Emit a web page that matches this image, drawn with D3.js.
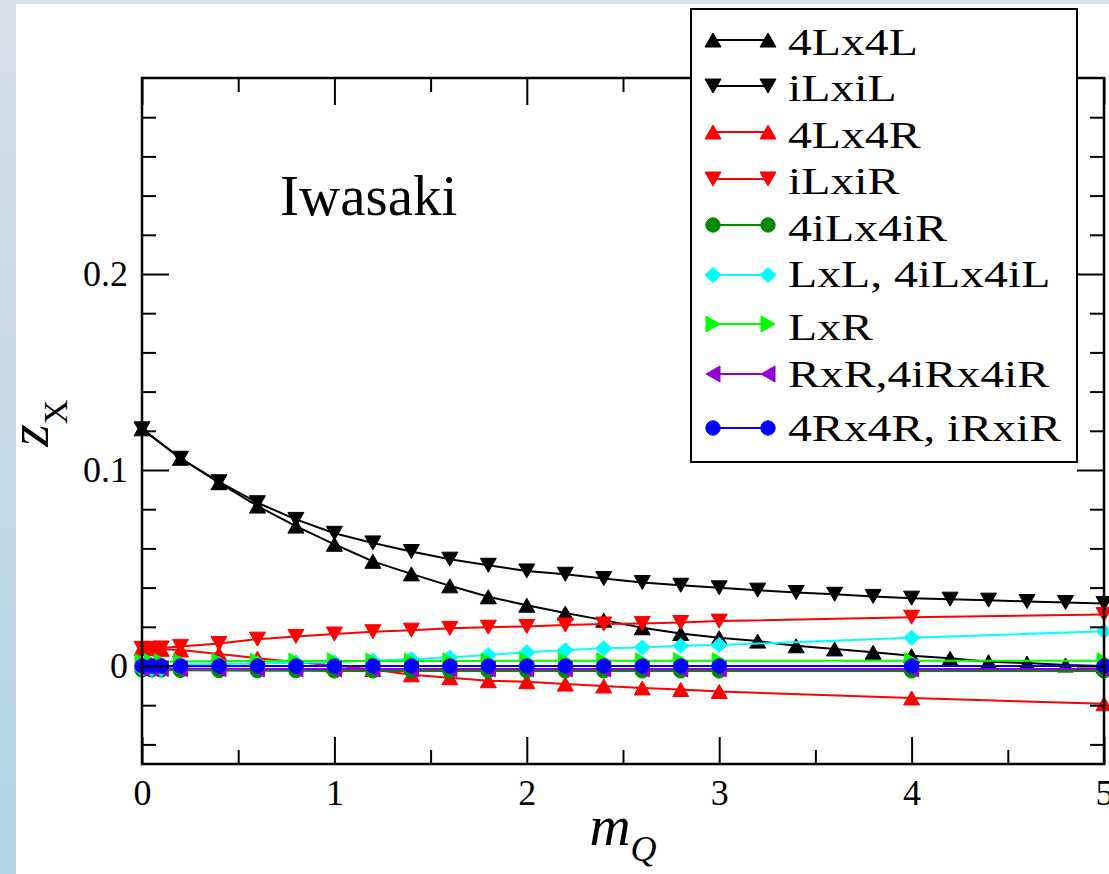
<!DOCTYPE html>
<html lang="en">
<head>
<meta charset="utf-8">
<title>Iwasaki z_X vs m_Q</title>
<script src="https://d3js.org/d3.v7.min.js"></script>
<style>
  body { margin: 0; background: #fff; overflow: hidden; }
  svg text { font-family: "Liberation Serif", "Times New Roman", serif; fill: #000; }
</style>
</head>
<body>
<svg id="chart" width="1109" height="874"></svg>
<script>
// quark mass grid: black sets have the full 0.2 grid, the rest stop at 3 then 4, 5
var xBlack = [0, 0.2, 0.4, 0.6, 0.8, 1.0, 1.2, 1.4, 1.6, 1.8, 2.0, 2.2, 2.4, 2.6, 2.8, 3.0,
              3.2, 3.4, 3.6, 3.8, 4.0, 4.2, 4.4, 4.6, 4.8, 5.0];
var xOther = [0, 0.05, 0.1, 0.2, 0.4, 0.6, 0.8, 1.0, 1.2, 1.4, 1.6, 1.8, 2.0, 2.2, 2.4, 2.6, 2.8, 3.0, 4.0, 5.0];

var z4Lx4L = [0.121, 0.106, 0.0935, 0.0816, 0.0714, 0.0621, 0.0534, 0.047, 0.0409, 0.0353, 0.031, 0.027, 0.0234,
              0.0195, 0.0166, 0.0144, 0.0127, 0.0103, 0.0087, 0.007, 0.0052, 0.0039, 0.0022, 0.0015, 0.0005, 0.0];
var ziLxiL = [0.121, 0.106, 0.094, 0.0833, 0.0748, 0.0677, 0.0628, 0.0584, 0.0545, 0.0514, 0.0485, 0.0468, 0.0446,
              0.0426, 0.0412, 0.0399, 0.0387, 0.0375, 0.0366, 0.0355, 0.0346, 0.0341, 0.0336, 0.0329, 0.0324, 0.0319];
var z4Lx4R = [0.009, 0.0088, 0.0085, 0.0082, 0.0061, 0.004, 0.002, 0.0002, -0.0018, -0.0045, -0.006, -0.0075,
              -0.008, -0.0092, -0.0102, -0.0112, -0.012, -0.013, -0.0163, -0.0193];
var ziLxiR = [0.009, 0.009, 0.0092, 0.010, 0.0115, 0.0137, 0.0151, 0.0163, 0.0175, 0.0183, 0.0192, 0.0198,
              0.0202, 0.0209, 0.0214, 0.0217, 0.0222, 0.0229, 0.0249, 0.0263];
var z4iLx4iR = [-0.002, -0.002, -0.002, -0.0022, -0.0023, -0.0024, -0.0024, -0.0025, -0.0025, -0.0025, -0.0025, -0.0025,
                -0.0025, -0.0025, -0.0025, -0.0025, -0.0025, -0.0025, -0.0025, -0.0025];
var zLxL = [-0.0015, -0.0015, -0.0015, 0.0008, 0.001, 0.0013, 0.0016, 0.0019, 0.0027, 0.0035, 0.0044, 0.0056,
            0.007, 0.0081, 0.009, 0.0095, 0.0103, 0.0107, 0.0144, 0.0177];
var zLxR = [0.0022, 0.0022, 0.0022, 0.0023, 0.0024, 0.0025, 0.0025, 0.0026, 0.0026, 0.0026, 0.0026, 0.0026,
            0.0027, 0.0027, 0.0027, 0.0027, 0.0027, 0.0027, 0.0027, 0.0027];
var zRxR = [-0.0013, -0.0013, -0.0013, -0.0014, -0.0014, -0.0015, -0.0015, -0.0015, -0.0015, -0.0015, -0.0015, -0.0015,
            -0.0015, -0.0015, -0.0015, -0.0015, -0.0015, -0.0015, -0.0015, -0.0015];
var z4Rx4R = [0, 0, 0, 0, 0, 0, 0, 0, 0, 0, 0, 0, 0, 0, 0, 0, 0, 0, 0, 0];

var seriesNames = ["4Lx4L", "iLxiL", "4Lx4R", "iLxiR", "4iLx4iR", "LxL, 4iLx4iL", "LxR", "RxR,4iRx4iR", "4Rx4R, iRxiR"];

var xTicks = [0, 1, 2, 3, 4, 5];
var xTickLabels = ["0", "1", "2", "3", "4", "5"];
var xMinor = [0.5, 1.5, 2.5, 3.5, 4.5];
var yTicks = [0, 0.1, 0.2];
var yTickLabels = ["0", "0.1", "0.2"];
var yMinor = [-0.04, -0.02, 0.02, 0.04, 0.06, 0.08, 0.12, 0.14, 0.16, 0.18, 0.22, 0.24, 0.26, 0.28];

var series = [
  {name: seriesNames[0], x: xBlack, y: z4Lx4L, color: "#000000", sym: "up"},
  {name: seriesNames[1], x: xBlack, y: ziLxiL, color: "#000000", sym: "down"},
  {name: seriesNames[2], x: xOther, y: z4Lx4R, color: "#ff0000", sym: "up"},
  {name: seriesNames[3], x: xOther, y: ziLxiR, color: "#ff0000", sym: "down"},
  {name: seriesNames[4], x: xOther, y: z4iLx4iR, color: "#008b00", sym: "circle"},
  {name: seriesNames[5], x: xOther, y: zLxL, color: "#00ffff", sym: "diamond"},
  {name: seriesNames[6], x: xOther, y: zLxR, color: "#00ff00", sym: "right"},
  {name: seriesNames[7], x: xOther, y: zRxR, color: "#9400d3", sym: "left"},
  {name: seriesNames[8], x: xOther, y: z4Rx4R, color: "#0000ff", sym: "circle"}
];

var svg = d3.select("#chart"),
    W = 1109, H = 874,
    margin = {left: 142, top: 78, right: 5, bottom: 110},
    x0 = margin.left, x1 = W - margin.right,
    y0 = margin.top, y1 = H - margin.bottom;

// page backdrop: white sheet with a bluish strip at left and a thin grey strip on top
var defs = svg.append("defs");
var grad = defs.append("linearGradient").attr("id", "strip")
    .attr("x1", 0).attr("y1", 0).attr("x2", 0).attr("y2", 1);
grad.append("stop").attr("offset", "0%").attr("stop-color", "#d9e0e7");
grad.append("stop").attr("offset", "100%").attr("stop-color", "#b1d3e5");
svg.append("rect").attr("width", W).attr("height", H).attr("fill", "#fff");
svg.append("rect").attr("width", 16).attr("height", H).attr("fill", "url(#strip)");
svg.append("rect").attr("width", W).attr("height", 4).attr("fill", "#d9e1e8");

var x = d3.scaleLinear().domain([0, 5]).range([x0, x1]);
var y = d3.scaleLinear().domain([-0.05, 0.3]).range([y1, y0]);

function symbolPath(type) {
  var a = 8, b = 7, r = 7.2;
  switch (type) {
    case "up": return "M0," + (-b) + "L" + a + "," + b + "L" + (-a) + "," + b + "Z";
    case "down": return "M0," + b + "L" + a + "," + (-b) + "L" + (-a) + "," + (-b) + "Z";
    case "right": return "M" + b + ",0L" + (-b) + "," + (-a) + "L" + (-b) + "," + a + "Z";
    case "left": return "M" + (-b) + ",0L" + b + "," + (-a) + "L" + b + "," + a + "Z";
    case "diamond": return "M0,-7.5L8,0L0,7.5L-8,0Z";
    default: return "M" + r + ",0A" + r + "," + r + " 0 1,1 " + (-r) + ",0A" + r + "," + r + " 0 1,1 " + r + ",0Z";
  }
}

var line = d3.line().x(function(d) { return x(d[0]); }).y(function(d) { return y(d[1]); });

var plot = svg.append("g");
series.forEach(function(s) {
  var pts = s.x.map(function(v, i) { return [v, s.y[i]]; });
  var g = plot.append("g");
  g.append("path")
    .attr("d", line(pts))
    .attr("fill", "none")
    .attr("stroke", s.color)
    .attr("stroke-width", 2)
    .attr("stroke-linejoin", "round");
  g.selectAll("path.m")
    .data(pts)
    .enter().append("path")
      .attr("class", "m")
      .attr("d", symbolPath(s.sym))
      .attr("transform", function(d) { return "translate(" + x(d[0]) + "," + y(d[1]) + ")"; })
      .attr("fill", s.color)
      .attr("stroke", s.color)
      .attr("stroke-width", 1);
});

// axes on all four sides, ticks pointing inward
function styleAxis(g) {
  g.select(".domain").remove();
  g.selectAll(".tick line").attr("stroke", "#000").attr("stroke-width", 2);
  g.attr("font-family", null).attr("font-size", 36);
}

svg.append("g").attr("transform", "translate(0," + y1 + ")")
  .call(d3.axisBottom(x).tickValues(xTicks).tickSize(-27).tickPadding(15)
        .tickFormat(function(d, i) { return xTickLabels[i]; }))
  .call(styleAxis);
svg.append("g").attr("transform", "translate(0," + y1 + ")")
  .call(d3.axisBottom(x).tickValues(xMinor).tickSize(-14).tickFormat(""))
  .call(styleAxis);
svg.append("g").attr("transform", "translate(0," + y0 + ")")
  .call(d3.axisTop(x).tickValues(xTicks).tickSize(-27).tickFormat(""))
  .call(styleAxis);
svg.append("g").attr("transform", "translate(0," + y0 + ")")
  .call(d3.axisTop(x).tickValues(xMinor).tickSize(-14).tickFormat(""))
  .call(styleAxis);

svg.append("g").attr("transform", "translate(" + x0 + ",0)")
  .call(d3.axisLeft(y).tickValues(yTicks).tickSize(-27).tickPadding(14)
        .tickFormat(function(d, i) { return yTickLabels[i]; }))
  .call(styleAxis);
svg.append("g").attr("transform", "translate(" + x0 + ",0)")
  .call(d3.axisLeft(y).tickValues(yMinor).tickSize(-14).tickFormat(""))
  .call(styleAxis);
svg.append("g").attr("transform", "translate(" + x1 + ",0)")
  .call(d3.axisRight(y).tickValues(yTicks).tickSize(-27).tickFormat(""))
  .call(styleAxis);
svg.append("g").attr("transform", "translate(" + x1 + ",0)")
  .call(d3.axisRight(y).tickValues(yMinor).tickSize(-14).tickFormat(""))
  .call(styleAxis);

svg.append("rect")
  .attr("x", x0).attr("y", y0)
  .attr("width", x1 - x0).attr("height", y1 - y0)
  .attr("fill", "none").attr("stroke", "#000").attr("stroke-width", 2.5);

// labels
svg.append("text").attr("x", 280).attr("y", 215).attr("font-size", 57).text("Iwasaki");

var xl = svg.append("text").attr("x", (x0 + x1) / 2).attr("y", 845).attr("text-anchor", "middle");
xl.append("tspan").attr("font-size", 57).attr("font-style", "italic").text("m");
xl.append("tspan").attr("font-size", 36).attr("font-style", "italic").attr("dy", 16).text("Q");

var yl = svg.append("text")
  .attr("transform", "translate(48," + ((y0 + y1) / 2 + 2) + ") rotate(-90)")
  .attr("text-anchor", "middle");
yl.append("tspan").attr("font-size", 57).attr("font-style", "italic").text("z");
yl.append("tspan").attr("font-size", 34).attr("dy", 19).text("X");

// legend box drawn over the frame
var legendMarkY = [40, 86, 132, 179, 225, 275, 324, 374, 428];
var legendTextY = [55, 101, 148, 194, 241, 287, 340, 387, 441];
var leg = svg.append("g");
leg.append("rect")
  .attr("x", 691).attr("y", 9).attr("width", 386).attr("height", 453)
  .attr("fill", "#fff").attr("stroke", "#000").attr("stroke-width", 2);
series.forEach(function(s, i) {
  var yy = legendMarkY[i];
  leg.append("line")
    .attr("x1", 713).attr("x2", 768).attr("y1", yy).attr("y2", yy)
    .attr("stroke", s.color).attr("stroke-width", 2);
  [713, 768].forEach(function(xx) {
    leg.append("path")
      .attr("d", symbolPath(s.sym))
      .attr("transform", "translate(" + xx + "," + yy + ")")
      .attr("fill", s.color).attr("stroke", s.color).attr("stroke-width", 1);
  });
  leg.append("text")
    .attr("transform", "translate(788," + legendTextY[i] + ") scale(1.29,1)")
    .attr("font-size", 37)
    .text(s.name);
});
</script>
</body>
</html>
